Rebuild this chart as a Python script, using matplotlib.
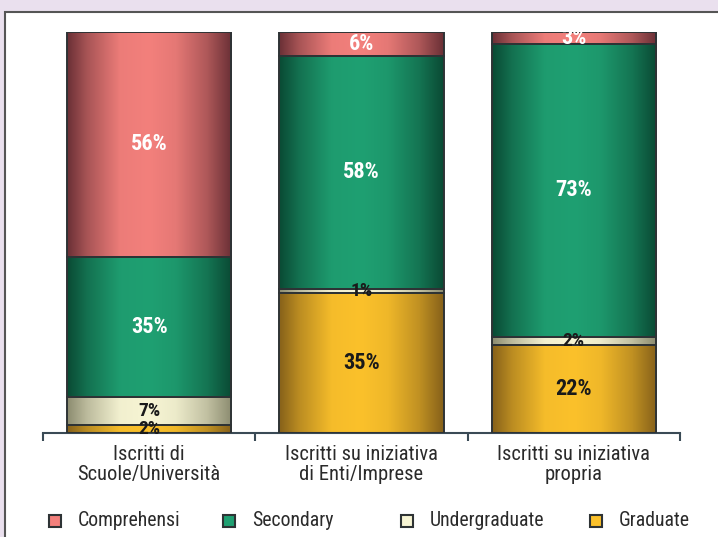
import numpy as np
import matplotlib.pyplot as plt
from matplotlib import font_manager
from matplotlib.patches import Rectangle
from matplotlib.colors import to_rgb

# --- DATA ---
categories = ["Iscritti di\nScuole/Università",
              "Iscritti su iniziativa\ndi Enti/Imprese",
              "Iscritti su iniziativa\npropria"]
series = ["Graduate", "Undergraduate", "Secondary", "Comprehensi"]
graduate = [2, 35, 22]
undergraduate = [7, 1, 2]
secondary = [35, 58, 73]
comprehensi = [56, 6, 3]

# --- STYLE ---
installed = {f.name for f in font_manager.fontManager.ttflist}
narrow = [f for f in ['Liberation Sans Narrow', 'Roboto Condensed',
                      'DejaVu Sans Condensed', 'Liberation Sans'] if f in installed]
plt.rcParams['font.family'] = narrow[:1] + ['DejaVu Sans']
centre = {"Comprehensi": "#f3807c", "Secondary": "#1fa072",
          "Undergraduate": "#f7f5d4", "Graduate": "#fbc12b"}
edge = {"Comprehensi": "#6a3036", "Secondary": "#0a4a34",
        "Undergraduate": "#8c8c70", "Graduate": "#86611a"}
txtcol = {"Comprehensi": "white", "Secondary": "white",
          "Undergraduate": "#1a1a1a", "Graduate": "#1a1a1a"}
outline = "#2e3335"


def gradient(name, n=200):
    t = np.linspace(0, 1, n)
    w = np.interp(t, [0, 0.12, 0.32, 0.5, 0.66, 0.85, 1],
                  [0.0, 0.45, 0.95, 1.0, 0.9, 0.5, 0.0])
    c0 = np.array(to_rgb(edge[name]))
    c1 = np.array(to_rgb(centre[name]))
    return (c0[None, :] + (c1 - c0)[None, :] * w[:, None])[None, :, :]


fig = plt.figure(figsize=(7.18, 5.37), dpi=100, facecolor="#eae0ee")
fig.patches.append(Rectangle((5 / 718, -0.1), 1.1, 1 - 12 / 537 + 0.1,
                             transform=fig.transFigure, facecolor="white",
                             edgecolor="#555555", lw=1.5, zorder=-5))

ax = fig.add_axes([43 / 718, (537 - 433) / 537, 637 / 718, 401 / 537])
ax.set_zorder(2)
ax.set_facecolor("none")

x = np.arange(len(categories))
data = {"Graduate": graduate, "Undergraduate": undergraduate,
        "Secondary": secondary, "Comprehensi": comprehensi}
bottom = np.zeros(len(categories))
for name in series:
    vals = np.array(data[name], dtype=float)
    bars = ax.bar(x, vals, 0.775, bottom=bottom, facecolor="none",
                  edgecolor=outline, lw=1.4, zorder=3)
    for b, v in zip(bars, vals):
        x0, y0 = b.get_x(), b.get_y()
        ax.imshow(gradient(name), extent=[x0, x0 + b.get_width(), y0, y0 + v],
                  aspect="auto", zorder=2, interpolation="bilinear")
        small = v < 10 and txtcol[name] != "white"
        ax.text(x0 + b.get_width() / 2, y0 + v / 2, f"{int(v)}%",
                ha="center", va="center", fontsize=14 if small else 16,
                fontweight="bold", color=txtcol[name], zorder=4)
    bottom += vals
ax.set_xlim(-0.5, 2.5)
ax.set_ylim(0, 100)

# axes
for s in ["top", "right", "left"]:
    ax.spines[s].set_visible(False)
ax.spines["bottom"].set_color("#3a4a55")
ax.spines["bottom"].set_linewidth(1.5)
ax.set_yticks([])
ax.set_xticks([-0.5, 0.5, 1.5, 2.5])
ax.set_xticklabels([])
ax.tick_params(axis="x", length=6, width=1.5, color="#3a4a55")
for i, c in enumerate(categories):
    ax.text(i, -3.1, c, ha="center", va="top", fontsize=14.8,
            color="#2a2a2a", linespacing=1.02)

# legend
leg_x = [49, 223, 401, 590]
for name, lx in zip(["Comprehensi", "Secondary", "Undergraduate", "Graduate"], leg_x):
    fig.patches.append(Rectangle((lx / 718, 1 - 527 / 537), 12 / 718, 12 / 537,
                                 transform=fig.transFigure,
                                 facecolor=centre[name], edgecolor=outline,
                                 lw=1.5, zorder=3))
    fig.text((lx + 29) / 718, 1 - 520 / 537, name, ha="left", va="center",
             fontsize=14.2, color="#2a2a2a")

fig.savefig("out.png", dpi=100, facecolor=fig.get_facecolor())
